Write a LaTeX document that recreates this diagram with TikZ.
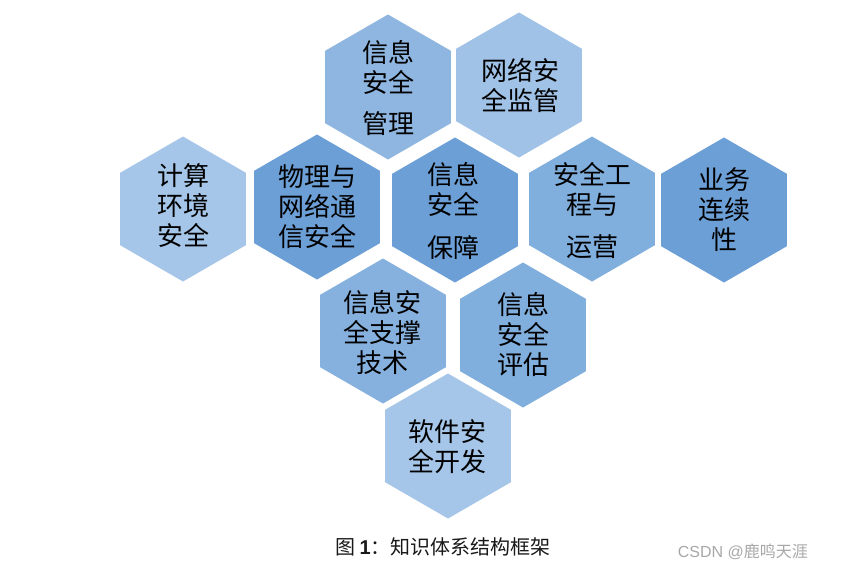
\documentclass[tikz,border=0pt]{standalone}
\usepackage{fontspec}
\setmainfont{Noto Sans CJK SC}
\newfontfamily\latinsans{Liberation Sans}
\usetikzlibrary{shapes.geometric}
\definecolor{hexlight}{HTML}{A5C6E8}
\definecolor{hexlightb}{HTML}{A0C2E6}
\definecolor{hexmid}{HTML}{8FB6E0}
\definecolor{hexmidb}{HTML}{80AEDD}
\definecolor{hexmidc}{HTML}{86B1DE}
\definecolor{hexdark}{HTML}{6C9FD6}
\definecolor{wmgray}{HTML}{A8A8A8}
\tikzset{
  hexa/.style={regular polygon, regular polygon sides=6, shape border rotate=30,
    minimum size=145pt, inner sep=0pt, outer sep=0pt, draw=none, fill=#1},
  hextext/.style={align=center, inner sep=0pt, font=\fontsize{26}{30}\selectfont, text=black},
  captiontext/.style={inner sep=0pt, font=\fontsize{20}{22}\selectfont, text=black!90},
  wmtext/.style={inner sep=0pt, font=\fontsize{16}{18}\selectfont, text=wmgray}
}
\begin{document}
\begin{tikzpicture}[x=1pt,y=-1pt]
\useasboundingbox[fill=white] (0,0) rectangle (845,571);
% top row
\node[hexa=hexmid]   (h1) at (388,87) {};
\node[hexa=hexlightb] (h2) at (519,85) {};
% middle row
\node[hexa=hexlight] (h3) at (183,209) {};
\node[hexa=hexdark]  (h4) at (317,207) {};
\node[hexa=hexdark]  (h5) at (455,210) {};
\node[hexa=hexmidb]  (h6) at (592,209) {};
\node[hexa=hexdark]  (h7) at (724,210) {};
% third row
\node[hexa=hexmidc]  (h8) at (383,331) {};
\node[hexa=hexmidb]  (h9) at (523,335) {};
% bottom
\node[hexa=hexlight] (h10) at (448,446) {};
% texts
\node[hextext] (t1) at (388,88) {信息\\安全\\[11pt]管理};
\node[hextext] (t2) at (520,85) {网络安\\全监管};
\node[hextext] (t3) at (183,206) {计算\\环境\\安全};
\node[hextext] (t4) at (317,207) {物理与\\网络通\\信安全};
\node[hextext] (t5) at (453,211) {信息\\安全\\[13pt]保障};
\node[hextext] (t6) at (592,211) {安全工\\程与\\[12pt]运营};
\node[hextext] (t7) at (724,210) {业务\\连续\\性};
\node[hextext] (t8) at (382,332) {信息安\\全支撑\\技术};
\node[hextext] (t9) at (523,334) {信息\\安全\\评估};
\node[hextext] (t10) at (447,447) {软件安\\全开发};
% caption
\node[captiontext, anchor=west] (cap) at (335,547) {图 {\latinsans\bfseries 1}：知识体系结构框架};
\node[wmtext, anchor=east] (wm) at (808,552) {{\latinsans CSDN @}鹿鸣天涯};
\end{tikzpicture}
\end{document}
